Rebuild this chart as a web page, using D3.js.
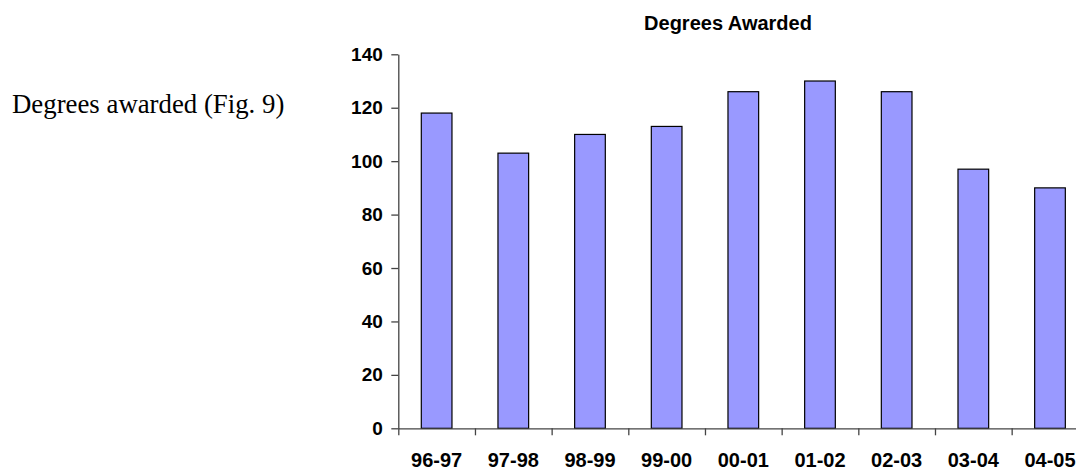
<!DOCTYPE html>
<html>
<head>
<meta charset="utf-8">
<script src="https://cdn.jsdelivr.net/npm/d3@7"></script>
<style>
  html, body { margin: 0; padding: 0; background: #fff; }
  svg { display: block; }
</style>
</head>
<body>
<svg id="chart" width="1076" height="471"></svg>
<script>
// Academic years and number of degrees awarded in each
const years = ["96-97", "97-98", "98-99", "99-00", "00-01", "01-02", "02-03", "03-04", "04-05"];
const degrees = [118, 103, 110, 113, 126, 130, 126, 97, 90];
const yTicks = [0, 20, 40, 60, 80, 100, 120, 140];

const svg = d3.select("#chart");
const sans = "'Liberation Sans', Arial, Helvetica, sans-serif";

// Plot area
const plotLeft = 398.3, plotTop = 54.3, plotBottom = 428.3, step = 76.67;
const plotRight = plotLeft + step * years.length;

const y = d3.scaleLinear().domain([0, 140]).range([plotBottom, plotTop]);
const xBand = d3.scaleBand().domain(years).range([plotLeft, plotRight])
  .paddingInner(0.6).paddingOuter(0.3);
const xLab = d3.scaleBand().domain(years).range([plotLeft, plotRight]).padding(0);
const xEdge = d3.scaleLinear().domain([0, years.length]).range([plotLeft, plotRight]);

// Side caption
svg.append("text")
  .attr("x", 12).attr("y", 112.5)
  .attr("font-family", "'Liberation Serif', 'Times New Roman', serif")
  .attr("font-size", 26.8)
  .attr("fill", "#000")
  .text("Degrees awarded (Fig. 9)");

// Chart title
svg.append("text")
  .attr("x", 728).attr("y", 30)
  .attr("text-anchor", "middle")
  .attr("font-family", sans)
  .attr("font-weight", "bold")
  .attr("font-size", 20)
  .text("Degrees Awarded");

// Bars
svg.append("g").selectAll("rect")
  .data(years)
  .join("rect")
  .attr("x", d => xBand(d))
  .attr("width", xBand.bandwidth())
  .attr("y", (d, i) => y(degrees[i]))
  .attr("height", (d, i) => y(0) - y(degrees[i]))
  .attr("fill", "#9999ff")
  .attr("stroke", "#000")
  .attr("stroke-width", 1.2);

// Y axis
const yAxis = svg.append("g")
  .attr("transform", `translate(${plotLeft},0)`)
  .call(d3.axisLeft(y).tickValues(yTicks).tickSize(7).tickPadding(8.5).tickSizeOuter(0));
yAxis.selectAll("text")
  .attr("font-family", sans).attr("font-weight", "bold").attr("font-size", 19).attr("fill", "#000");

// X axis: boundary ticks
svg.append("g")
  .attr("transform", `translate(0,${plotBottom})`)
  .call(d3.axisBottom(xEdge).tickValues(d3.range(0, years.length + 1)).tickFormat("").tickSize(7).tickSizeOuter(0));

// X axis: category labels
const xLabels = svg.append("g")
  .attr("transform", `translate(0,${plotBottom})`)
  .call(d3.axisBottom(xLab).tickSize(0).tickPadding(25));
xLabels.select(".domain").remove();
xLabels.selectAll("text")
  .attr("font-family", sans).attr("font-weight", "bold").attr("font-size", 20).attr("fill", "#000");

svg.selectAll(".domain, .tick line").attr("stroke", "#444").attr("stroke-width", 1.3);
</script>
</body>
</html>
